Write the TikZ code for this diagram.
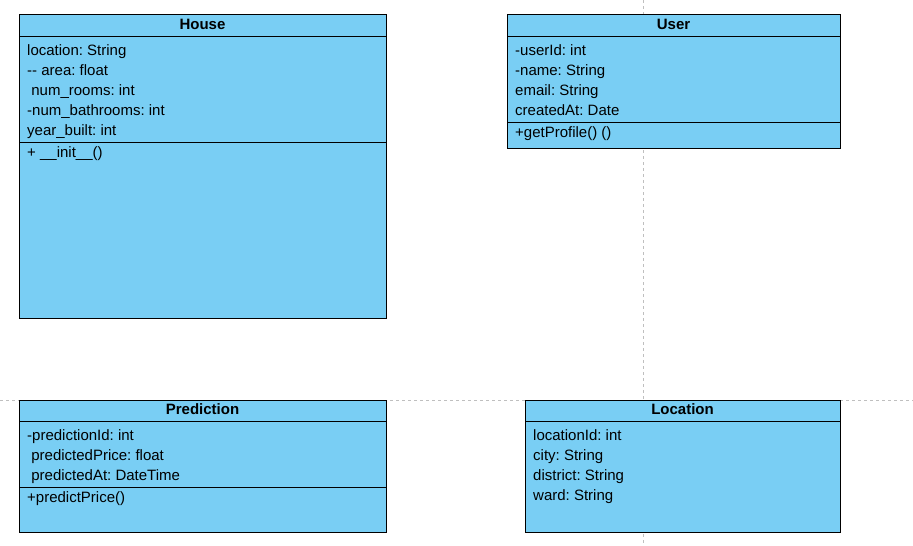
\documentclass[tikz,border=0pt]{standalone}
\usepackage{fontspec}
\setmainfont{Liberation Sans}
\frenchspacing
\definecolor{classfill}{HTML}{79CEF4}
\def\fs{\fontsize{15}{18}\selectfont}

\begin{document}
\begin{tikzpicture}[x=1pt, y=-1pt]
	\tikzset{box/.style={draw, line width=1pt, fill=classfill, anchor=north west, inner sep=0pt},
		sep/.style={line width=1pt},
		title/.style={anchor=base, inner sep=0pt, font=\fs\bfseries},
		attr/.style={anchor=base west, inner sep=0pt, font=\fs},
		guide/.style={black!25, dash pattern=on 3pt off 3pt, line width=0.8pt}}
	\useasboundingbox (0,0) rectangle (913,546);
	% page guides
	\coordinate(gt) at (643,0);
	\coordinate(gb) at (643,546);
	\coordinate(gl) at (0,400);
	\coordinate(gr) at (913,400);
	\draw[guide](gt)--(gb);
	\draw[guide](gl)--(gr);
	% House
	\node[box, minimum width=367pt, minimum height=304pt](house) at (19,14){};
	\draw[sep]([yshift=-22pt]house.north west)--([yshift=-22pt]house.north east);
	\draw[sep]([yshift=-128pt]house.north west)--([yshift=-128pt]house.north east);
	\node[title](house-t) at (202.5,29){House};
	\node[attr](house-1) at (27,55.5){location: String};
	\node[attr](house-2) at (27,75.5){-{}- area: float};
	\node[attr](house-3) at (27,95.5){\ num\_rooms: int};
	\node[attr](house-4) at (27,115.5){-num\_bathrooms: int};
	\node[attr](house-5) at (27,135.5){year\_built: int};
	\node[attr](house-m) at (27,157.5){+ \_\_init\_\_()};
	% User
	\node[box, minimum width=333pt, minimum height=134pt](user) at (507,14){};
	\draw[sep]([yshift=-22pt]user.north west)--([yshift=-22pt]user.north east);
	\draw[sep]([yshift=-108pt]user.north west)--([yshift=-108pt]user.north east);
	\node[title](user-t) at (673.5,29){User};
	\node[attr](user-1) at (515,55.5){-userId: int};
	\node[attr](user-2) at (515,75.5){-name: String};
	\node[attr](user-3) at (515,95.5){email: String};
	\node[attr](user-4) at (515,115.5){createdAt: Date};
	\node[attr](user-m) at (515,137.5){+getProfile() ()};
	% Prediction
	\node[box, minimum width=367pt, minimum height=132pt](pred) at (19,400){};
	\draw[sep]([yshift=-21pt]pred.north west)--([yshift=-21pt]pred.north east);
	\draw[sep]([yshift=-87pt]pred.north west)--([yshift=-87pt]pred.north east);
	\node[title](pred-t) at (202.5,414.5){Prediction};
	\node[attr](pred-1) at (27,440.5){-predictionId: int};
	\node[attr](pred-2) at (27,460.5){\ predictedPrice: float};
	\node[attr](pred-3) at (27,480.5){\ predictedAt: DateTime};
	\node[attr](pred-m) at (27,502.5){+predictPrice()};
	% Location
	\node[box, minimum width=315pt, minimum height=132pt](loc) at (525,400){};
	\draw[sep]([yshift=-21pt]loc.north west)--([yshift=-21pt]loc.north east);
	\node[title](loc-t) at (682.5,414.5){Location};
	\node[attr](loc-1) at (533,440.5){locationId: int};
	\node[attr](loc-2) at (533,460.5){city: String};
	\node[attr](loc-3) at (533,480.5){district: String};
	\node[attr](loc-4) at (533,500.5){ward: String};
\end{tikzpicture}
\end{document}
